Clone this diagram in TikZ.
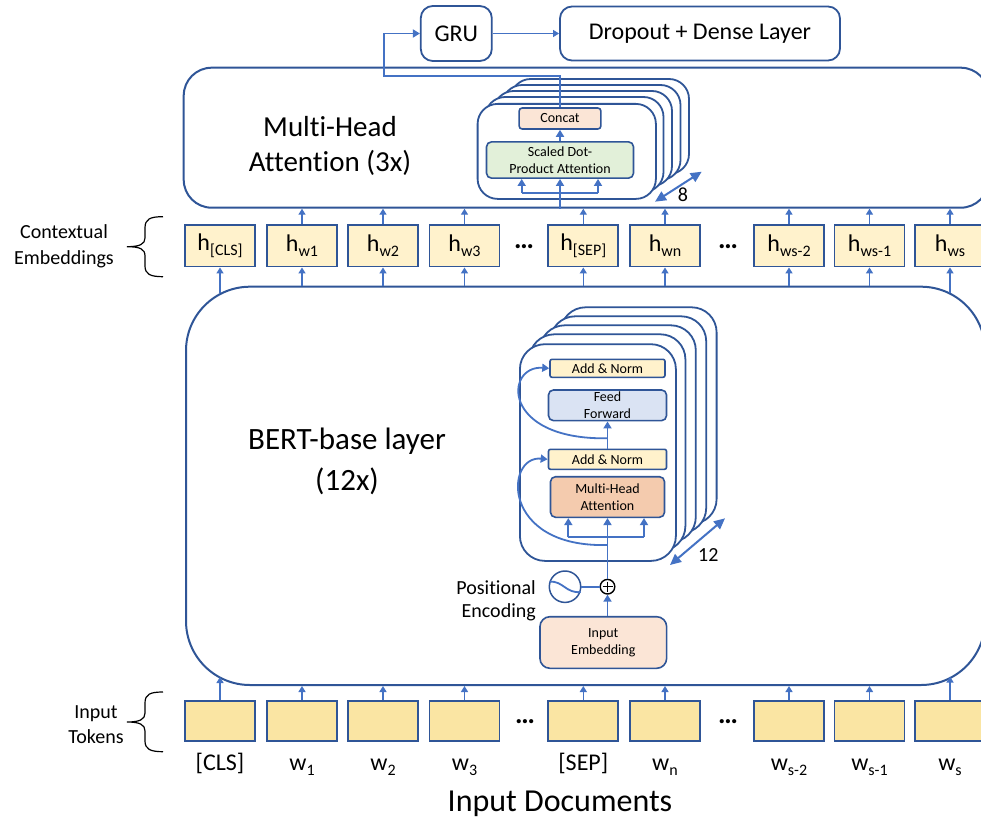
\documentclass[tikz,border=0pt]{standalone}
\usepackage{fontspec}
\setmainfont{Carlito}[Ligatures=NoCommon]
\usetikzlibrary{arrows.meta}

\definecolor{edge}{HTML}{2F5597}
\definecolor{wire}{HTML}{4472C4}
\definecolor{hfill}{HTML}{FFF2CC}
\definecolor{tokfill}{HTML}{FAE5A3}
\definecolor{peach}{HTML}{FBE5D6}
\definecolor{mint}{HTML}{E2F0D9}
\definecolor{sky}{HTML}{DAE3F3}
\definecolor{salmon}{HTML}{F4CBAE}

\newcommand{\setfs}[1]{\fontsize{#1}{#1}\selectfont}
\newcommand{\lowsub}[1]{\raisebox{-5pt}{\setfs{16}#1}}

\begin{document}
\begin{tikzpicture}[x=1pt, y=-1pt,
  every node/.style={inner sep=0pt},
  wire/.style={draw=wire, line width=1.4pt},
  conn/.style={wire, -{Triangle[width=7pt,length=6pt]}},
  iwire/.style={draw=wire, line width=1.8pt},
  iconn/.style={iwire, -{Triangle[width=8pt,length=7pt]}},
  count/.style={draw=wire, line width=2pt, {Triangle[width=10pt,length=11pt]}-{Triangle[width=10pt,length=11pt]}},
  panel/.style={draw=edge, line width=2pt, fill=white},
  card/.style={draw=edge, line width=1.8pt, fill=white},
  blk/.style={draw=edge, line width=1.6pt, align=center, font=\setfs{14}},
  cell/.style={draw=edge, line width=1.8pt, minimum width=70pt},
  hcell/.style={cell, fill=hfill, minimum height=41.5pt, font=\setfs{24}},
  tcell/.style={cell, fill=tokfill, minimum height=40.3pt},
  tlab/.style={anchor=base, font=\setfs{24}},
  dots/.style={font=\fontsize{28}{28}\selectfont\bfseries},
  brace/.style={draw=black, line width=1.2pt},
  side/.style={align=center, font=\fontsize{20}{26}\selectfont}
]
\useasboundingbox (0,0) rectangle (981,821);
\clip (0,0) rectangle (981,821);

% ---------- output heads ----------
\node[draw=edge, line width=1.8pt, rounded corners=12pt, minimum width=71pt,
      minimum height=55pt, font=\setfs{24}] (gru) at (456.3,33.5) {GRU};
\node[draw=edge, line width=1.8pt, rounded corners=12pt, minimum width=280pt,
      minimum height=54pt, font=\setfs{24}] (drop) at (700,33.5) {Dropout + Dense Layer};
\draw[conn] (gru.east) -- (drop.west);

% ---------- multi-head attention block ----------
\node[panel, rounded corners=28pt, minimum width=805pt, minimum height=140pt,
      anchor=north west] (mha) at (182.7,66.7) {};
\node[align=center, font=\fontsize{29}{35}\selectfont] (mhatxt) at (330,145.5)
      {Multi-Head\\Attention (3x)};

\foreach \k in {4,3,2,1}
  \draw[card, rounded corners=20pt] (476.7+8.5*\k, 103-6*\k) rectangle (655+8.5*\k, 198-6*\k);
\node[card, rounded corners=20pt, minimum width=178.3pt, minimum height=95pt,
      anchor=north west] (hcard) at (476.7,103) {};
\node[blk, fill=peach, rounded corners=3pt, minimum width=81.7pt, minimum height=21pt]
      (concat) at (560,118.5) {Concat};
\node[blk, fill=mint, rounded corners=5pt, minimum width=147pt, minimum height=36.3pt,
      font=\fontsize{14}{17.5}\selectfont] (sdpa) at (560,160) {Scaled Dot-\\Product Attention};

\coordinate (qa) at (521.7,192.7);
\coordinate (qb) at (598,192.7);
\draw[iconn] (sdpa.south |- mha.south) -- (sdpa.south);
\draw[iwire] (qa) -- (qb);
\draw[iconn] (qa) -- (qa |- sdpa.south);
\draw[iconn] (qb) -- (qb |- sdpa.south);
\draw[iconn] (sdpa.north) -- (concat.south);

\coordinate (turn) at (384,76);
\draw[iconn] (concat.north) |- (turn) |- (gru.west);

\coordinate (ea) at (655,201.7);
\coordinate (eb) at (701.7,171.7);
\draw[count] (ea) -- (eb);
\node[font=\setfs{20}] (eight) at (683,195) {8};

% ---------- BERT block ----------
\node[panel, rounded corners=64pt, minimum width=799pt, minimum height=398.3pt,
      anchor=north west] (bert) at (185,285.7) {};
\node[align=center, font=\fontsize{31}{41}\selectfont] (berttxt) at (347,461)
      {BERT-base layer\\(12x)};

\foreach \k in {4,3,2,1}
  \draw[card, rounded corners=25pt] (519+10.4*\k, 343.3-9*\k) rectangle (675+10.4*\k, 560-9*\k);
\node[card, rounded corners=25pt, minimum width=156pt, minimum height=216.7pt,
      anchor=north west] (bcard) at (519,343.3) {};

\node[blk, fill=hfill, rounded corners=2pt, minimum width=115pt, minimum height=18pt]
      (an2) at (607.5,368.3) {Add \& Norm};
\node[blk, fill=sky, rounded corners=5pt, minimum width=118pt, minimum height=30.7pt,
      font=\fontsize{14}{17.5}\selectfont] (ff) at (607.5,405.3) {Feed\\Forward};
\node[blk, fill=hfill, rounded corners=2pt, minimum width=118pt, minimum height=20pt]
      (an1) at (607.5,459.3) {Add \& Norm};
\node[blk, fill=salmon, rounded corners=5pt, minimum width=114pt, minimum height=40.6pt,
      font=\fontsize{14}{17.5}\selectfont] (imha) at (607.5,497) {Multi-Head\\Attention};

\node[draw=edge, line width=1.6pt, fill=peach, rounded corners=10pt, minimum width=126.7pt,
      minimum height=51.6pt, align=center, font=\fontsize{14}{17}\selectfont]
      (iemb) at (603.3,642.5) {Input\\Embedding};
\node[circle, draw=black, line width=1.4pt, minimum size=14.6pt] (plus) at (607.5,586.7) {};
\draw[black, line width=1.4pt] ([yshift=5pt]plus.center) -- ([yshift=-5pt]plus.center)
      ([xshift=-5pt]plus.center) -- ([xshift=5pt]plus.center);
\node[circle, draw=edge, line width=1.5pt, minimum size=31.4pt] (sine) at (565,586.7) {};
\draw[iwire] (549.5,581.7) .. controls (563,580.5) and (566,593.8) .. (580.7,592);
\draw[iwire] (sine.east) -- (plus.west);
\node[anchor=east, align=right, font=\fontsize{20}{23}\selectfont] (posenc) at (536,600.8)
      {Positional\\Encoding};

\draw[iconn] (plus.south |- iemb.north) -- (plus.south);
\draw[iconn] (plus.north) -- (plus.north |- imha.south);
\coordinate (ka) at (568.3,537.3);
\coordinate (kb) at (644,537.3);
\draw[iwire] (ka) -- (kb);
\draw[iconn] (ka) -- (ka |- imha.south);
\draw[iconn] (kb) -- (kb |- imha.south);
\coordinate (r1) at (607.5,545);
\draw[iconn] (r1) .. controls (500,548) and (505,455) .. (an1.west);
\draw[iconn] (an1.north) -- (ff.south);
\coordinate (r2) at (607.5,438.3);
\draw[iconn] (r2) .. controls (500,440) and (505,365) .. (an2.west);

\coordinate (ta) at (670,565);
\coordinate (tb) at (725,518.3);
\draw[count] (ta) -- (tb);
\node[font=\setfs{20}] (twelve) at (708.3,555) {12};

% ---------- contextual embeddings ----------
\node[hcell] (h1) at (220,245.8)   {h\lowsub{[CLS]}};
\node[hcell] (h2) at (302,245.8)   {h\lowsub{w1}};
\node[hcell] (h3) at (383,245.8)   {h\lowsub{w2}};
\node[hcell] (h4) at (464.5,245.8) {h\lowsub{w3}};
\node[hcell] (h5) at (583.3,245.8) {h\lowsub{[SEP]}};
\node[hcell] (h6) at (665,245.8)   {h\lowsub{wn}};
\node[hcell] (h7) at (789,245.8)   {h\lowsub{ws-2}};
\node[hcell] (h8) at (869.5,245.8) {h\lowsub{ws-1}};
\node[hcell] (h9) at (950,245.8)   {h\lowsub{ws}};
\node[dots] (d1) at (524,246.7) {…};
\node[dots] (d2) at (728,246.7) {…};

% each embedding feeds the attention block above it
\foreach \i in {2,...,9}
  \draw[conn] (h\i.north) -- (h\i.north |- mha.south);
\foreach \i in {2,...,8}
  \draw[conn] (h\i.south |- bert.north) -- (h\i.south);
\coordinate (bt1) at (220,292.6);
\coordinate (bt9) at (950,293.2);
\draw[conn] (bt1) -- (h1.south);
\draw[conn] (bt9) -- (h9.south);

% ---------- input tokens ----------
\node[tcell] (t1) at (220,720.8)   {};
\node[tcell] (t2) at (302,720.8)   {};
\node[tcell] (t3) at (383,720.8)   {};
\node[tcell] (t4) at (464.5,720.8) {};
\node[tcell] (t5) at (583.3,720.8) {};
\node[tcell] (t6) at (665,720.8)   {};
\node[tcell] (t7) at (789,720.8)   {};
\node[tcell] (t8) at (869.5,720.8) {};
\node[tcell] (t9) at (950,720.8)   {};
\node[dots] (d3) at (525,721.7) {…};
\node[dots] (d4) at (728,721.7) {…};

\foreach \i in {2,...,8}
  \draw[conn] (t\i.north) -- (t\i.north |- bert.south);
\coordinate (bb1) at (220,677);
\coordinate (bb9) at (950,676.5);
\draw[conn] (t1.north) -- (bb1);
\draw[conn] (t9.north) -- (bb9);

\node[tlab] (l1) at (220,770)   {[CLS]};
\node[tlab] (l2) at (302,770)   {w\lowsub{1}};
\node[tlab] (l3) at (383,770)   {w\lowsub{2}};
\node[tlab] (l4) at (464.5,770) {w\lowsub{3}};
\node[tlab] (l5) at (583.3,770) {[SEP]};
\node[tlab] (l6) at (665,770)   {w\lowsub{n}};
\node[tlab] (l7) at (789,770)   {w\lowsub{s-2}};
\node[tlab] (l8) at (869.5,770) {w\lowsub{s-1}};
\node[tlab] (l9) at (950,770)   {w\lowsub{s}};

\node[anchor=base, font=\setfs{32}] (docs) at (560,811.7) {Input Documents};

% ---------- side labels with braces ----------
\node[side] (ctx) at (64,246.7) {Contextual\\Embeddings};
\draw[brace] (163,216.7) .. controls (150,216.7) and (145,219) .. (145,228) -- (145,238)
   .. controls (145,244) and (140,246.7) .. (127,246.7)
   .. controls (140,246.7) and (145,249) .. (145,256) -- (145,266)
   .. controls (145,274) and (150,276.7) .. (163,276.7);
\node[side, font=\fontsize{20}{25}\selectfont] (tokl) at (96,724.5) {Input\\Tokens};
\draw[brace] (163,692) .. controls (150,692) and (145,694.3) .. (145,703) -- (145,713)
   .. controls (145,719.3) and (140,722) .. (127,722)
   .. controls (140,722) and (145,724.7) .. (145,731) -- (145,741)
   .. controls (145,749) and (150,751.7) .. (163,751.7);
\end{tikzpicture}
\end{document}
